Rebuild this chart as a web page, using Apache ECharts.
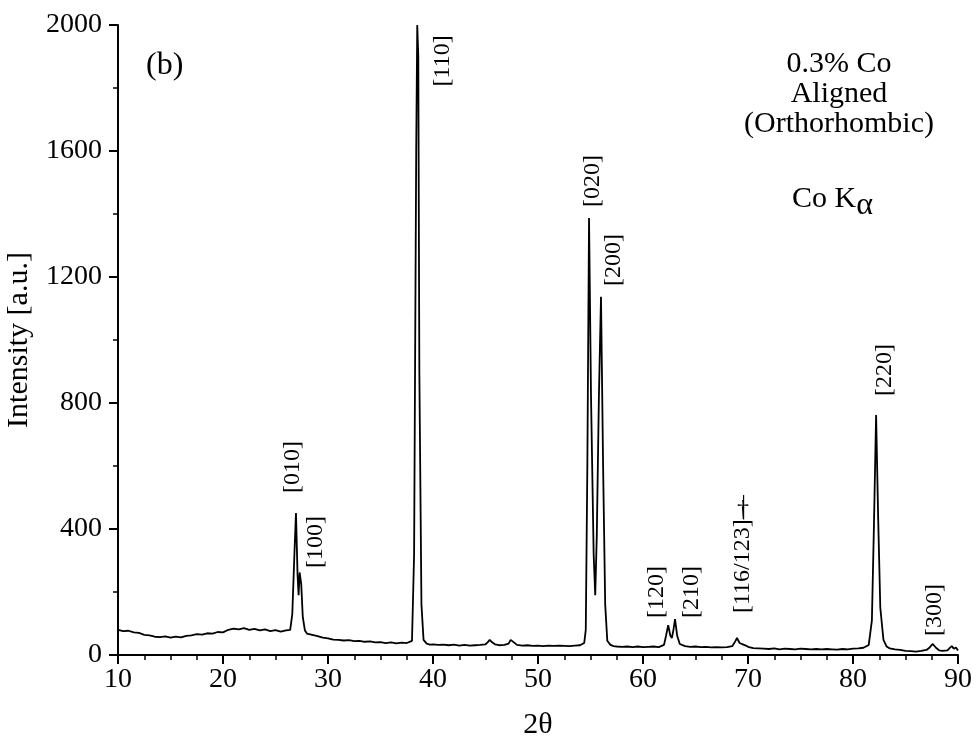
<!DOCTYPE html>
<html>
<head>
<meta charset="utf-8">
<title>XRD pattern, 0.3% Co aligned</title>
<script src="https://cdn.jsdelivr.net/npm/echarts@6/dist/echarts.min.js"></script>
<style>
  html, body { margin: 0; padding: 0; background: #fff; }
  #chart { width: 977px; height: 736px; }
</style>
</head>
<body>
<div id="chart"></div>
<script>
// Diffraction angle (degrees 2θ) and measured intensity (a.u.)
var twoTheta = [
  10, 10.5, 11, 11.5, 12, 12.5, 13, 13.5, 14, 14.5, 15, 15.5, 16, 16.5, 17, 17.5,
  18, 18.5, 19, 19.5, 20, 20.5, 21, 21.5, 22, 22.5, 23, 23.5, 24, 24.5, 25, 25.5,
  26, 26.4, 26.6, 26.8, 26.95, 27.1, 27.2, 27.3, 27.45, 27.6, 27.8, 28, 28.5, 29,
  29.5, 30, 30.5, 31, 31.5, 32, 32.5, 33, 33.5, 34, 34.5, 35, 35.5, 36, 36.5, 37,
  37.5, 38, 38.2, 38.4, 38.5, 38.6, 38.7, 38.9, 39.1, 39.4, 39.7, 40, 40.5, 41, 41.5,
  42, 42.5, 43, 43.5, 44, 44.5, 45, 45.2, 45.4, 45.6, 45.9, 46.3, 46.8, 47.2, 47.4,
  47.5, 47.7, 48, 48.5, 49, 49.5, 50, 50.5, 51, 51.5, 52, 52.5, 53, 53.5, 54, 54.4,
  54.55, 54.7, 54.86, 55.05, 55.3, 55.45, 55.6, 55.8, 56.0, 56.2, 56.4, 56.6, 56.9,
  57.2, 57.5, 58, 58.5, 59, 59.5, 60, 60.5, 61, 61.5, 62, 62.2, 62.4, 62.6, 62.75,
  62.9, 63.05, 63.25, 63.5, 64, 64.5, 65, 65.5, 66, 66.5, 67, 67.5, 68, 68.5, 68.8,
  68.95, 69.2, 69.5, 69.8, 70, 70.5, 71, 71.5, 72, 72.5, 73, 73.5, 74, 74.5, 75,
  75.5, 76, 76.5, 77, 77.5, 78, 78.5, 79, 79.5, 80, 80.5, 81, 81.5, 81.8, 82.0,
  82.2, 82.4, 82.6, 82.9, 83.2, 83.5, 84, 84.5, 85, 85.5, 86, 86.5, 87, 87.3, 87.6,
  87.9, 88.2, 88.5, 89, 89.2, 89.4, 89.6, 89.8, 90
];
var intensity = [
  80, 76, 77, 72, 70, 64, 62, 58, 57, 59, 55, 58, 56, 61, 62, 66,
  65, 69, 68, 73, 72, 80, 84, 81, 85, 80, 83, 78, 81, 76, 79, 74,
  78, 80, 130, 320, 451, 255, 190, 262, 225, 120, 78, 68, 64, 60,
  55, 53, 49, 48, 46, 47, 44, 45, 42, 43, 40, 41, 38, 40, 37, 39,
  38, 45, 320, 1600, 2000, 1900, 900, 160, 48, 36, 33, 34, 32, 33, 31,
  33, 30, 32, 30, 31, 32, 34, 40, 48, 41, 34, 31, 32, 36, 48,
  54, 40, 32, 30, 31, 29, 30, 28, 30, 29, 30, 29, 28, 30, 31, 38,
  80, 600, 1387, 820, 320, 190, 380, 820, 1137, 600, 160, 45, 32,
  28, 27, 26, 27, 25, 27, 25, 26, 27, 25, 32, 62, 95, 62, 54,
  80, 114, 62, 35, 28, 26, 27, 25, 26, 24, 25, 24, 25, 28, 44,
  54, 38, 34, 30, 26, 22, 21, 20, 19, 21, 18, 20, 19, 18, 20,
  19, 18, 19, 18, 19, 18, 17, 19, 18, 20, 21, 23, 32, 110, 420,
  762, 430, 150, 48, 27, 21, 18, 16, 13, 12, 11, 13, 16, 24, 35,
  23, 15, 13, 15, 22, 28, 20, 24, 14
];

// Reflection labels: text and the (2θ, intensity) point they sit on
var peakNames = ['[010]', '[100]', '[110]', '[020]', '[200]', '[120]', '[210]', '[116/123]\u2014', '[220]', '[300]'];
var peakLabelAt = [
  [26.67, 597], [28.86, 359], [40.95, 1886], [55.24, 1505], [57.24, 1254],
  [61.33, 200], [64.67, 200], [69.52, 320], [83.05, 905], [87.8, 143]
];
var daggerAt = [69.52, 462];

var xTicks = [10, 20, 30, 40, 50, 60, 70, 80, 90];
var yTicks = [0, 400, 800, 1200, 1600, 2000];

var FONT = '"Liberation Serif", "DejaVu Serif", serif';

var spectrum = twoTheta.map(function (t, i) { return [t, intensity[i]]; });
var labelPoints = peakNames.map(function (n, i) { return { name: n, value: peakLabelAt[i] }; });

var chart = echarts.init(document.getElementById('chart'), null, { renderer: 'canvas' });

chart.setOption({
  backgroundColor: '#ffffff',
  animation: false,
  textStyle: { fontFamily: FONT, color: '#000' },
  grid: { left: 118, right: 19, top: 25, bottom: 81, containLabel: false, outerBoundsMode: 'none' },
  xAxis: {
    type: 'value',
    min: xTicks[0],
    max: xTicks[xTicks.length - 1],
    interval: xTicks[1] - xTicks[0],
    name: '2\u03b8',
    nameLocation: 'middle',
    nameGap: 55,
    nameTextStyle: { fontFamily: FONT, fontSize: 30, color: '#000' },
    axisLine: { lineStyle: { color: '#000', width: 2 } },
    axisTick: { inside: false, length: 9, lineStyle: { color: '#000', width: 2 } },
    minorTick: { show: true, splitNumber: 4, length: 5, lineStyle: { color: '#000', width: 1.5 } },
    axisLabel: { fontFamily: FONT, fontSize: 28, color: '#000', margin: 11, formatter: function (v) { return String(v); } },
    splitLine: { show: false }
  },
  yAxis: {
    type: 'value',
    min: yTicks[0],
    max: yTicks[yTicks.length - 1],
    interval: yTicks[1] - yTicks[0],
    name: 'Intensity [a.u.]',
    nameLocation: 'middle',
    nameGap: 84,
    nameTextStyle: { fontFamily: FONT, fontSize: 30, color: '#000' },
    axisLine: { show: true, lineStyle: { color: '#000', width: 2 } },
    axisTick: { show: true, length: 9, lineStyle: { color: '#000', width: 2 } },
    minorTick: { show: true, splitNumber: 2, length: 5, lineStyle: { color: '#000', width: 1.5 } },
    axisLabel: { fontFamily: FONT, fontSize: 28, color: '#000', margin: 16, formatter: function (v) { return String(v); } },
    splitLine: { show: false }
  },
  series: [
    {
      type: 'line',
      data: spectrum,
      showSymbol: false,
      symbol: 'none',
      clip: true,
      lineStyle: { color: '#000', width: 1.8 },
      z: 3
    },
    {
      type: 'scatter',
      data: labelPoints,
      symbolSize: 0,
      silent: true,
      itemStyle: { opacity: 1, color: '#000' },
      label: {
        show: true,
        position: 'inside',
        rotate: 90,
        formatter: '{b}',
        fontFamily: FONT,
        fontSize: 24,
        color: '#000'
      },
      z: 4
    },
    {
      type: 'scatter',
      data: [{ name: '\u2020', value: daggerAt }],
      symbolSize: 0,
      silent: true,
      itemStyle: { opacity: 1, color: '#000' },
      label: { show: true, position: 'inside', formatter: '{b}', fontFamily: FONT, fontSize: 24, color: '#000' },
      z: 4
    }
  ],
  graphic: [
    {
      type: 'text', x: 146, y: 50,
      style: { text: '(b)', font: '32px ' + FONT, fill: '#000' }
    },
    {
      type: 'text', x: 839, y: 49,
      style: {
        text: '0.3% Co\nAligned\n(Orthorhombic)',
        textAlign: 'center',
        font: '30px ' + FONT,
        lineHeight: 30,
        fill: '#000'
      }
    },
    {
      type: 'text', x: 792, y: 176,
      style: {
        rich: {
          m: { fontFamily: FONT, fontSize: 30, fill: '#000' },
          s: { fontFamily: FONT, fontSize: 32, fill: '#000', padding: [14, 0, 0, 0] }
        },
        text: '{m|Co K}{s|\u03b1}',
        fill: '#000'
      }
    }
  ]
});
</script>
</body>
</html>
